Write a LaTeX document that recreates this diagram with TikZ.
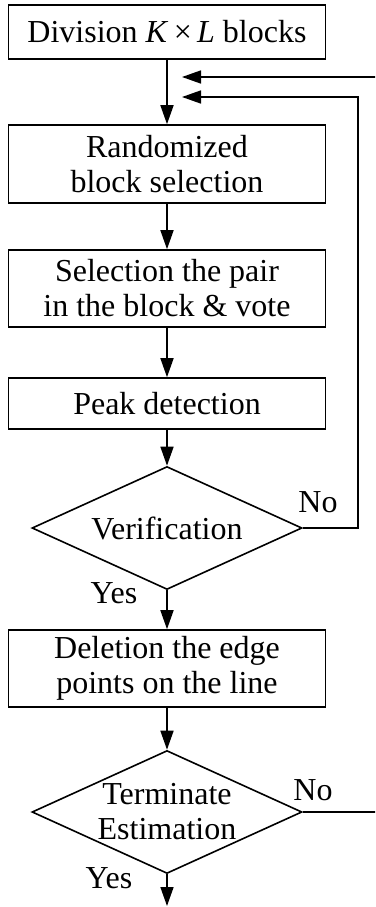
\documentclass[tikz,border=0pt]{standalone}
\usepackage{fontspec}
\setmainfont{Liberation Serif}
\usetikzlibrary{arrows.meta, shapes.geometric}

\tikzset{
  process/.style={draw, line width=1.6pt, minimum width=317pt, inner sep=0pt, align=center, font=\fontsize{32}{35}\selectfont},
  decision/.style={draw, diamond, line width=1.6pt, shape aspect=2.2, minimum width=270pt, minimum height=123pt, inner sep=0pt, align=center, font=\fontsize{32}{35}\selectfont},
  tag/.style={inner sep=0pt, font=\fontsize{32}{35}\selectfont},
  flow/.style={line width=1.6pt, -{Triangle[length=19pt,width=13pt]}}
}

\begin{document}
\begin{tikzpicture}[x=1pt,y=-1pt]
\useasboundingbox (0,0) rectangle (375,907);
\clip (0,0) rectangle (375,907);
\node[process, minimum height=54pt] (division) at (167,32) {Division \textit{K}\,×\,\textit{L} blocks};
\node[process, minimum height=78pt] (random) at (167,164) {Randomized\\block selection};
\node[process, minimum height=77pt] (pair) at (167,288.5) {Selection the pair\\in the block \& vote};
\node[process, minimum height=51pt] (peak) at (167,403.5) {Peak detection};
\node[decision] (verify) at (167,528) {Verification};
\node[process, minimum height=77pt] (delete) at (167,668.5) {Deletion the edge\\points on the line};
\node[decision] (stop) at (167,812) {Terminate\\Estimation};
\node[tag] (no1) at (318,502) {No};
\node[tag] (yes1) at (114,593) {Yes};
\node[tag] (no2) at (313,790) {No};
\node[tag] (yes2) at (109,878) {Yes};
\coordinate (join1) at (182,77);
\coordinate (join2) at (182,97);
\coordinate (out) at (167,906);

\draw[flow] (division) -- (random);
\draw[flow] (random) -- (pair);
\draw[flow] (pair) -- (peak);
\draw[flow] (peak) -- (verify);
\draw[flow] (verify) -- (delete);
\draw[flow] (delete) -- (stop);
\draw[flow] (stop) -- (out);
\draw[flow] (verify.east) -- ++(55,0) |- (join2);
\draw[flow] (stop.east) -- ++(90,0) |- (join1);
\end{tikzpicture}
\end{document}
